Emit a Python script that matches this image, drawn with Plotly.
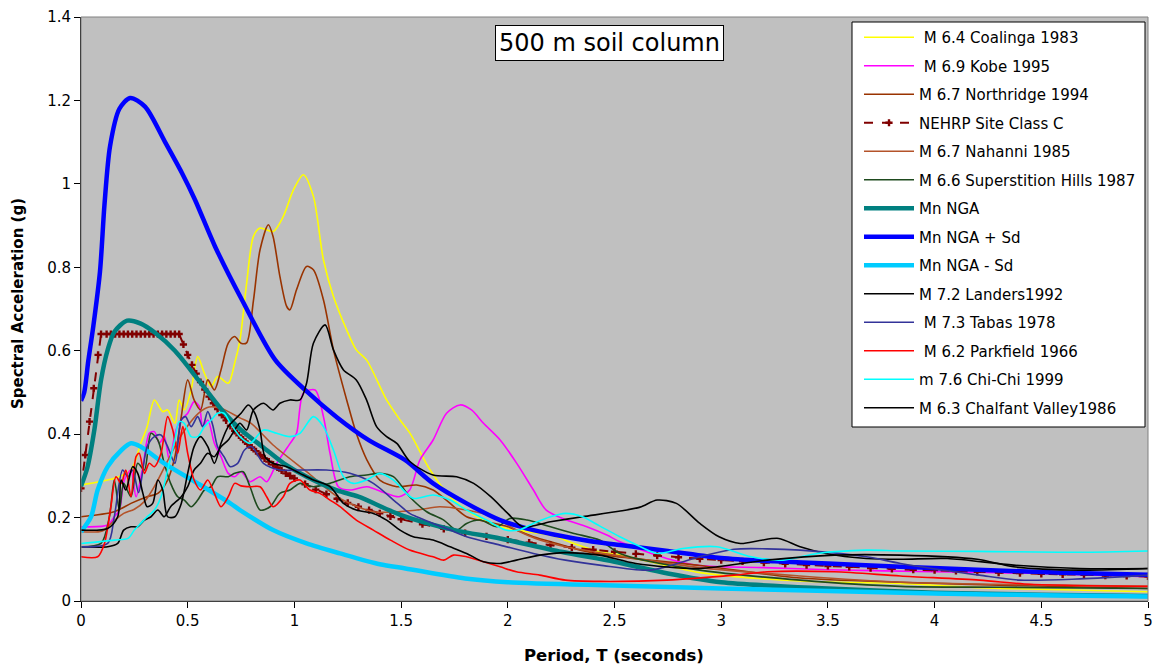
import plotly.graph_objects as go

# ---------------- data ----------------
T_coalinga = [0, 0.156, 0.234, 0.28, 0.31, 0.344, 0.383, 0.406, 0.44, 0.46, 0.484, 0.516, 0.547, 0.578, 0.61, 0.64, 0.69, 0.72, 0.745, 0.776, 0.808, 0.839, 0.901, 0.948, 0.995, 1.042, 1.089, 1.136, 1.183, 1.245, 1.29, 1.338, 1.432, 1.495, 1.542, 1.636, 1.73, 1.807, 1.886, 1.964, 2.09, 2.2, 2.31, 2.43, 2.53, 2.9, 3.37, 3.84, 4.21, 4.6, 5.0]
SA_coalinga = [0.278, 0.294, 0.314, 0.378, 0.418, 0.482, 0.454, 0.458, 0.426, 0.482, 0.458, 0.506, 0.586, 0.546, 0.514, 0.538, 0.522, 0.57, 0.626, 0.761, 0.874, 0.894, 0.886, 0.922, 0.985, 1.022, 0.970, 0.818, 0.730, 0.650, 0.602, 0.578, 0.482, 0.434, 0.402, 0.314, 0.25, 0.218, 0.194, 0.178, 0.166, 0.158, 0.138, 0.118, 0.11, 0.068, 0.048, 0.042, 0.032, 0.027, 0.022]

T_kobe = [0, 0.125, 0.156, 0.18, 0.203, 0.234, 0.258, 0.29, 0.32, 0.344, 0.367, 0.39, 0.414, 0.445, 0.469, 0.5, 0.53, 0.555, 0.57, 0.594, 0.625, 0.656, 0.69, 0.72, 0.75, 0.792, 0.839, 0.87, 0.917, 0.98, 1.01, 1.042, 1.097, 1.136, 1.167, 1.206, 1.26, 1.34, 1.43, 1.49, 1.54, 1.588, 1.65, 1.713, 1.776, 1.83, 1.886, 1.964, 2.042, 2.12, 2.18, 2.276, 2.37, 2.464, 2.525, 2.745, 2.9, 3.2, 3.5, 4.0, 4.5, 4.76, 5.0]
SA_kobe = [0.178, 0.182, 0.202, 0.218, 0.29, 0.314, 0.25, 0.322, 0.402, 0.406, 0.378, 0.394, 0.338, 0.41, 0.434, 0.45, 0.478, 0.466, 0.418, 0.434, 0.378, 0.346, 0.306, 0.298, 0.31, 0.286, 0.298, 0.286, 0.33, 0.378, 0.402, 0.498, 0.506, 0.442, 0.354, 0.274, 0.266, 0.274, 0.258, 0.25, 0.266, 0.338, 0.386, 0.45, 0.47, 0.458, 0.426, 0.386, 0.33, 0.266, 0.218, 0.194, 0.178, 0.158, 0.142, 0.102, 0.085, 0.08, 0.075, 0.07, 0.066, 0.062, 0.058]

T_northridge = [0, 0.156, 0.234, 0.31, 0.36, 0.406, 0.44, 0.47, 0.5, 0.53, 0.56, 0.594, 0.625, 0.656, 0.69, 0.72, 0.75, 0.776, 0.808, 0.839, 0.878, 0.9, 0.932, 0.964, 0.979, 1.01, 1.057, 1.089, 1.136, 1.183, 1.245, 1.29, 1.34, 1.4, 1.48, 1.573, 1.65, 1.73, 1.807, 1.9, 2.0, 2.12, 2.23, 2.34, 2.46, 2.9, 3.37, 3.84, 4.3, 5.0]
SA_northridge = [0.202, 0.214, 0.234, 0.25, 0.258, 0.29, 0.346, 0.442, 0.53, 0.482, 0.458, 0.53, 0.506, 0.554, 0.618, 0.634, 0.618, 0.619, 0.72, 0.842, 0.902, 0.874, 0.778, 0.706, 0.698, 0.746, 0.802, 0.794, 0.722, 0.602, 0.482, 0.402, 0.338, 0.29, 0.274, 0.278, 0.266, 0.234, 0.202, 0.19, 0.178, 0.154, 0.138, 0.122, 0.11, 0.085, 0.055, 0.045, 0.038, 0.03]

T_nehrp = [0, 0.02, 0.04, 0.06, 0.08, 0.094, 0.12, 0.14, 0.16, 0.18, 0.2, 0.22, 0.24, 0.26, 0.28, 0.3, 0.32, 0.34, 0.36, 0.38, 0.4, 0.42, 0.44, 0.46, 0.48, 0.5, 0.52, 0.54, 0.56, 0.58, 0.6, 0.62, 0.64, 0.66, 0.68, 0.7, 0.72, 0.74, 0.76, 0.78, 0.8, 0.82, 0.84, 0.86, 0.88, 0.9, 0.92, 0.94, 0.96, 0.98, 1.0, 1.05, 1.1, 1.15, 1.2, 1.25, 1.3, 1.35, 1.4, 1.45, 1.5, 1.6, 1.7, 1.8, 1.9, 2.0, 2.1, 2.2, 2.3, 2.4, 2.5, 2.6, 2.7, 2.8, 2.9, 3.0, 3.1, 3.2, 3.3, 3.4, 3.5, 3.6, 3.7, 3.8, 3.9, 4.0, 4.1, 4.2, 4.3, 4.4, 4.5, 4.6, 4.7, 4.8, 4.9, 5.0]
SA_nehrp = [0.27, 0.35, 0.43, 0.51, 0.59, 0.64, 0.64, 0.64, 0.64, 0.64, 0.64, 0.64, 0.64, 0.64, 0.64, 0.64, 0.64, 0.64, 0.64, 0.64, 0.64, 0.64, 0.64, 0.64, 0.615, 0.59, 0.566, 0.545, 0.525, 0.507, 0.49, 0.474, 0.46, 0.446, 0.433, 0.42, 0.408, 0.397, 0.387, 0.377, 0.368, 0.359, 0.35, 0.342, 0.334, 0.327, 0.32, 0.313, 0.306, 0.3, 0.294, 0.28, 0.267, 0.256, 0.245, 0.235, 0.226, 0.218, 0.21, 0.203, 0.196, 0.184, 0.173, 0.163, 0.155, 0.147, 0.14, 0.134, 0.128, 0.123, 0.118, 0.113, 0.109, 0.105, 0.101, 0.098, 0.095, 0.092, 0.089, 0.086, 0.084, 0.082, 0.079, 0.077, 0.075, 0.074, 0.072, 0.07, 0.068, 0.067, 0.065, 0.064, 0.063, 0.061, 0.06, 0.059]

T_nahanni = [0, 0.1, 0.15, 0.2, 0.25, 0.3, 0.35, 0.4, 0.45, 0.5, 0.55, 0.6, 0.656, 0.745, 0.797, 0.9, 1.057, 1.214, 1.37, 1.573, 1.68, 1.807, 1.93, 2.04, 2.15, 2.27, 2.5, 2.9, 3.37, 3.84, 4.3, 5.0]
SA_nahanni = [0.166, 0.168, 0.19, 0.21, 0.22, 0.24, 0.28, 0.33, 0.38, 0.42, 0.45, 0.465, 0.462, 0.439, 0.426, 0.374, 0.31, 0.246, 0.214, 0.218, 0.226, 0.218, 0.202, 0.17, 0.146, 0.13, 0.11, 0.08, 0.06, 0.045, 0.04, 0.035]

T_superstition = [0, 0.094, 0.133, 0.156, 0.18, 0.2, 0.234, 0.266, 0.297, 0.328, 0.36, 0.39, 0.42, 0.453, 0.484, 0.516, 0.547, 0.578, 0.61, 0.64, 0.69, 0.72, 0.76, 0.792, 0.839, 0.886, 0.932, 0.979, 1.026, 1.089, 1.167, 1.26, 1.338, 1.4, 1.464, 1.54, 1.62, 1.7, 1.76, 1.807, 1.87, 1.95, 2.01, 2.09, 2.2, 2.31, 2.43, 2.525, 2.9, 3.37, 3.84, 4.3, 5.0]
SA_superstition = [0.13, 0.138, 0.202, 0.29, 0.218, 0.282, 0.25, 0.33, 0.314, 0.402, 0.386, 0.33, 0.282, 0.25, 0.242, 0.226, 0.242, 0.266, 0.274, 0.298, 0.298, 0.306, 0.31, 0.274, 0.218, 0.226, 0.258, 0.266, 0.282, 0.274, 0.282, 0.298, 0.302, 0.306, 0.298, 0.25, 0.214, 0.194, 0.17, 0.186, 0.194, 0.178, 0.198, 0.194, 0.178, 0.162, 0.146, 0.114, 0.074, 0.05, 0.035, 0.033, 0.03]

T_nga = [0, 0.03, 0.0625, 0.094, 0.125, 0.156, 0.216, 0.28, 0.347, 0.44, 0.55, 0.66, 0.75, 0.85, 0.95, 1.06, 1.2, 1.3, 1.5, 1.75, 1.964, 2.25, 2.5, 2.75, 3.0, 3.5, 4.0, 4.5, 5.0]
SA_nga = [0.275, 0.32, 0.41, 0.53, 0.602, 0.645, 0.672, 0.665, 0.643, 0.60, 0.53, 0.458, 0.41, 0.37, 0.33, 0.297, 0.265, 0.25, 0.206, 0.17, 0.15, 0.118, 0.094, 0.066, 0.045, 0.03, 0.02, 0.015, 0.012]

T_nga_plus = [0, 0.015, 0.034, 0.058, 0.089, 0.11, 0.136, 0.18, 0.23, 0.30, 0.394, 0.473, 0.534, 0.628, 0.754, 0.91, 1.05, 1.2, 1.35, 1.518, 1.65, 1.807, 1.964, 2.12, 2.27, 2.43, 2.525, 2.75, 3.0, 3.25, 3.5, 3.84, 4.2, 4.6, 5.0]
SA_nga_plus = [0.48, 0.50, 0.575, 0.66, 0.79, 0.95, 1.09, 1.18, 1.206, 1.185, 1.10, 1.026, 0.962, 0.85, 0.722, 0.578, 0.506, 0.44, 0.385, 0.338, 0.282, 0.234, 0.194, 0.17, 0.154, 0.14, 0.134, 0.12, 0.103, 0.095, 0.09, 0.082, 0.075, 0.068, 0.063]

T_nga_minus = [0, 0.047, 0.078, 0.125, 0.19, 0.234, 0.28, 0.39, 0.547, 0.70, 0.745, 0.9, 1.057, 1.214, 1.4, 1.52, 1.8, 2.0, 2.5, 3.0, 3.5, 4.0, 4.5, 5.0]
SA_nga_minus = [0.166, 0.202, 0.266, 0.322, 0.362, 0.378, 0.37, 0.33, 0.282, 0.234, 0.218, 0.17, 0.138, 0.114, 0.088, 0.078, 0.054, 0.045, 0.037, 0.03, 0.024, 0.018, 0.014, 0.011]

T_landers = [0, 0.125, 0.172, 0.2, 0.234, 0.266, 0.297, 0.328, 0.36, 0.39, 0.42, 0.47, 0.5, 0.53, 0.56, 0.594, 0.625, 0.656, 0.69, 0.72, 0.745, 0.776, 0.808, 0.855, 0.9, 0.932, 0.979, 1.026, 1.057, 1.089, 1.144, 1.183, 1.23, 1.29, 1.338, 1.385, 1.432, 1.48, 1.54, 1.65, 1.76, 1.84, 1.92, 2.0, 2.07, 2.2, 2.35, 2.52, 2.62, 2.7, 2.79, 2.9, 2.99, 3.09, 3.18, 3.27, 3.37, 3.49, 3.68, 3.84, 4.06, 4.37, 4.68, 5.0]
SA_landers = [0.13, 0.13, 0.138, 0.17, 0.178, 0.178, 0.194, 0.202, 0.218, 0.202, 0.226, 0.25, 0.274, 0.314, 0.33, 0.354, 0.346, 0.37, 0.386, 0.41, 0.426, 0.41, 0.458, 0.474, 0.458, 0.474, 0.482, 0.482, 0.522, 0.618, 0.662, 0.602, 0.554, 0.53, 0.482, 0.418, 0.394, 0.378, 0.335, 0.302, 0.298, 0.282, 0.25, 0.21, 0.178, 0.19, 0.202, 0.215, 0.225, 0.242, 0.234, 0.186, 0.154, 0.138, 0.145, 0.15, 0.13, 0.114, 0.102, 0.1, 0.102, 0.086, 0.078, 0.078]

T_tabas = [0, 0.125, 0.156, 0.195, 0.22, 0.242, 0.27, 0.31, 0.344, 0.375, 0.406, 0.44, 0.47, 0.49, 0.516, 0.547, 0.57, 0.594, 0.617, 0.64, 0.67, 0.70, 0.734, 0.766, 0.8, 0.855, 0.932, 1.026, 1.15, 1.26, 1.37, 1.48, 1.54, 1.573, 1.65, 1.73, 1.807, 1.964, 2.12, 2.27, 2.43, 2.667, 2.9, 3.06, 3.215, 3.37, 3.68, 3.84, 4.21, 4.4, 4.68, 5.0]
SA_tabas = [0.13, 0.138, 0.202, 0.314, 0.298, 0.314, 0.26, 0.37, 0.394, 0.398, 0.37, 0.33, 0.434, 0.442, 0.418, 0.442, 0.418, 0.454, 0.422, 0.37, 0.346, 0.322, 0.33, 0.362, 0.37, 0.33, 0.314, 0.314, 0.314, 0.306, 0.282, 0.235, 0.21, 0.202, 0.186, 0.17, 0.154, 0.134, 0.114, 0.098, 0.086, 0.074, 0.106, 0.124, 0.125, 0.122, 0.106, 0.09, 0.062, 0.05, 0.053, 0.062]

T_parkfield = [0, 0.078, 0.11, 0.14, 0.164, 0.188, 0.21, 0.234, 0.258, 0.273, 0.297, 0.32, 0.344, 0.375, 0.406, 0.43, 0.453, 0.477, 0.5, 0.53, 0.56, 0.594, 0.625, 0.656, 0.69, 0.72, 0.75, 0.792, 0.839, 0.87, 0.9, 0.948, 0.979, 1.026, 1.073, 1.12, 1.167, 1.214, 1.29, 1.37, 1.45, 1.54, 1.65, 1.7, 1.745, 1.807, 1.886, 1.964, 2.04, 2.15, 2.27, 2.43, 2.745, 3.06, 3.215, 3.53, 3.84, 4.21, 4.45, 5.0]
SA_parkfield = [0.106, 0.106, 0.138, 0.226, 0.298, 0.282, 0.314, 0.25, 0.346, 0.354, 0.306, 0.33, 0.322, 0.354, 0.442, 0.41, 0.354, 0.418, 0.354, 0.29, 0.266, 0.29, 0.258, 0.226, 0.25, 0.282, 0.276, 0.274, 0.274, 0.25, 0.226, 0.25, 0.282, 0.29, 0.266, 0.258, 0.242, 0.226, 0.194, 0.17, 0.146, 0.122, 0.106, 0.098, 0.11, 0.106, 0.094, 0.082, 0.07, 0.062, 0.05, 0.047, 0.05, 0.062, 0.07, 0.07, 0.06, 0.05, 0.04, 0.035]

T_chichi = [0, 0.156, 0.22, 0.25, 0.28, 0.31, 0.344, 0.375, 0.406, 0.44, 0.46, 0.484, 0.516, 0.547, 0.578, 0.61, 0.64, 0.67, 0.70, 0.745, 0.792, 0.855, 0.917, 0.979, 1.026, 1.089, 1.136, 1.183, 1.23, 1.276, 1.338, 1.4, 1.464, 1.495, 1.557, 1.65, 1.73, 1.807, 1.9, 1.99, 2.05, 2.12, 2.2, 2.27, 2.35, 2.43, 2.525, 2.59, 2.7, 2.82, 2.98, 3.14, 3.29, 3.45, 3.68, 3.84, 4.2, 4.68, 5.0]
SA_chichi = [0.138, 0.146, 0.15, 0.17, 0.186, 0.202, 0.218, 0.25, 0.314, 0.386, 0.43, 0.426, 0.394, 0.394, 0.418, 0.434, 0.45, 0.45, 0.426, 0.394, 0.378, 0.41, 0.402, 0.394, 0.402, 0.442, 0.418, 0.362, 0.298, 0.282, 0.29, 0.306, 0.29, 0.274, 0.246, 0.254, 0.242, 0.218, 0.194, 0.17, 0.17, 0.186, 0.202, 0.21, 0.202, 0.18, 0.154, 0.138, 0.114, 0.126, 0.13, 0.106, 0.098, 0.114, 0.122, 0.12, 0.119, 0.117, 0.12]

T_chalfant = [0, 0.125, 0.172, 0.188, 0.21, 0.242, 0.266, 0.29, 0.31, 0.336, 0.36, 0.383, 0.406, 0.44, 0.47, 0.5, 0.53, 0.56, 0.594, 0.625, 0.656, 0.69, 0.75, 0.784, 0.815, 0.839, 0.862, 0.9, 0.964, 1.026, 1.089, 1.167, 1.23, 1.29, 1.37, 1.432, 1.495, 1.557, 1.65, 1.73, 1.807, 1.886, 1.964, 2.04, 2.15, 2.27, 2.43, 2.6, 2.9, 3.215, 3.53, 3.84, 4.2, 4.37, 4.68, 5.0]
SA_chalfant = [0.17, 0.174, 0.202, 0.29, 0.266, 0.322, 0.306, 0.258, 0.226, 0.234, 0.29, 0.266, 0.202, 0.202, 0.234, 0.306, 0.37, 0.394, 0.37, 0.33, 0.378, 0.418, 0.45, 0.47, 0.45, 0.41, 0.346, 0.33, 0.322, 0.306, 0.29, 0.274, 0.234, 0.218, 0.21, 0.194, 0.17, 0.154, 0.146, 0.13, 0.114, 0.094, 0.09, 0.098, 0.11, 0.116, 0.11, 0.09, 0.078, 0.098, 0.11, 0.11, 0.1, 0.082, 0.074, 0.078]

NAMES = ["\u00a0M 6.4 Coalinga 1983", "\u00a0M 6.9 Kobe 1995", "M 6.7 Northridge 1994",
         "NEHRP Site Class C", "M 6.7 Nahanni 1985", "M 6.6 Superstition Hills 1987",
         "Mn NGA", "Mn NGA + Sd", "Mn NGA - Sd", "M 7.2 Landers1992",
         "\u00a0M 7.3 Tabas 1978", "\u00a0M 6.2 Parkfield 1966", "m 7.6 Chi-Chi 1999",
         "M 6.3 Chalfant Valley1986"]

# ---------------- figure ----------------
FONT = "DejaVu Sans, Verdana, sans-serif"
fig = go.Figure()

def rec(x, y, name, color, width=1.6):
    fig.add_trace(go.Scatter(x=x, y=y, name=name, mode="lines", legendgroup=name,
                             line=dict(color=color, width=width, shape="spline", smoothing=0.8)))

rec(T_coalinga, SA_coalinga, NAMES[0], "#FFFF00")
rec(T_kobe, SA_kobe, NAMES[1], "#FF00FF")
rec(T_northridge, SA_northridge, NAMES[2], "#993300")
fig.add_trace(go.Scatter(x=T_nehrp, y=SA_nehrp, name=NAMES[3], mode="lines+markers",
                         legendgroup=NAMES[3],
                         line=dict(color="#800000", width=2, dash="dash"),
                         marker=dict(symbol="cross", size=6, color="#800000")))
rec(T_nahanni, SA_nahanni, NAMES[4], "#B4532A")
rec(T_superstition, SA_superstition, NAMES[5], "#1E4A1E")
rec(T_nga, SA_nga, NAMES[6], "#008080", 4.5)
rec(T_nga_plus, SA_nga_plus, NAMES[7], "#0000FF", 4.5)
rec(T_nga_minus, SA_nga_minus, NAMES[8], "#00CCFF", 4.5)
rec(T_landers, SA_landers, NAMES[9], "#000000")
rec(T_tabas, SA_tabas, NAMES[10], "#333399")
rec(T_parkfield, SA_parkfield, NAMES[11], "#FF0000")
rec(T_chichi, SA_chichi, NAMES[12], "#00FFFF")
rec(T_chalfant, SA_chalfant, NAMES[13], "#000000")

W, H = 1157, 665
L, R, TOP, B = 81, 9, 17, 64
pw, ph = W - L - R, H - TOP - B

def px_x(p):
    return (p - L) / pw

def px_y(p):
    return (H - B - p) / ph

fig.update_layout(
    width=W, height=H, autosize=False,
    margin=dict(l=L, r=R, t=TOP, b=B, pad=0, autoexpand=False),
    paper_bgcolor="white", plot_bgcolor="#C0C0C0",
    font=dict(family=FONT, size=15, color="black"),
    showlegend=True,
    legend=dict(x=px_x(859), y=px_y(21), xanchor="left", yanchor="top",
                bgcolor="rgba(0,0,0,0)", borderwidth=0,
                font=dict(family=FONT, size=15, color="black"),
                itemwidth=50, tracegroupgap=6, traceorder="grouped"),
    xaxis=dict(range=[0, 5], dtick=0.5, tick0=0, showgrid=False, zeroline=False,
               showline=True, linecolor="black", linewidth=1, automargin=False,
               ticks="outside", ticklen=6, tickcolor="black",
               tickfont=dict(family=FONT, size=15, color="black")),
    yaxis=dict(range=[0, 1.4], dtick=0.2, tick0=0, showgrid=False, zeroline=False,
               showline=True, linecolor="black", linewidth=1, automargin=False,
               ticks="outside", ticklen=6, tickcolor="black",
               tickfont=dict(family=FONT, size=15, color="black")),
    shapes=[
        dict(type="rect", xref="paper", yref="paper", x0=0, x1=1, y0=0, y1=1,
             line=dict(color="#808080", width=1), layer="above"),
        dict(type="rect", xref="paper", yref="paper",
             x0=px_x(852), x1=px_x(1145), y0=px_y(427), y1=px_y(22),
             line=dict(color="black", width=1), fillcolor="white", layer="above"),
    ],
    annotations=[
        dict(text="500 m soil column", xref="paper", yref="paper",
             x=px_x(609), y=px_y(43), xanchor="center", yanchor="middle",
             showarrow=False, font=dict(family=FONT, size=24, color="black"),
             bgcolor="white", bordercolor="black", borderwidth=1, borderpad=3),
        dict(text="<b>Period, T (seconds)</b>", xref="paper", yref="paper",
             x=px_x(614), y=px_y(655), xanchor="center", yanchor="middle",
             showarrow=False, font=dict(family=FONT, size=16.5, color="black")),
        dict(text="<b>Spectral Acceleration (g)</b>", xref="paper", yref="paper",
             x=px_x(18), y=px_y(304), xanchor="center", yanchor="middle", textangle=-90,
             showarrow=False, font=dict(family=FONT, size=15, color="black")),
    ],
)

fig.write_html("out.html", config={"displayModeBar": False},
               post_script="document.body.style.margin='0';document.body.style.overflow='hidden';")
